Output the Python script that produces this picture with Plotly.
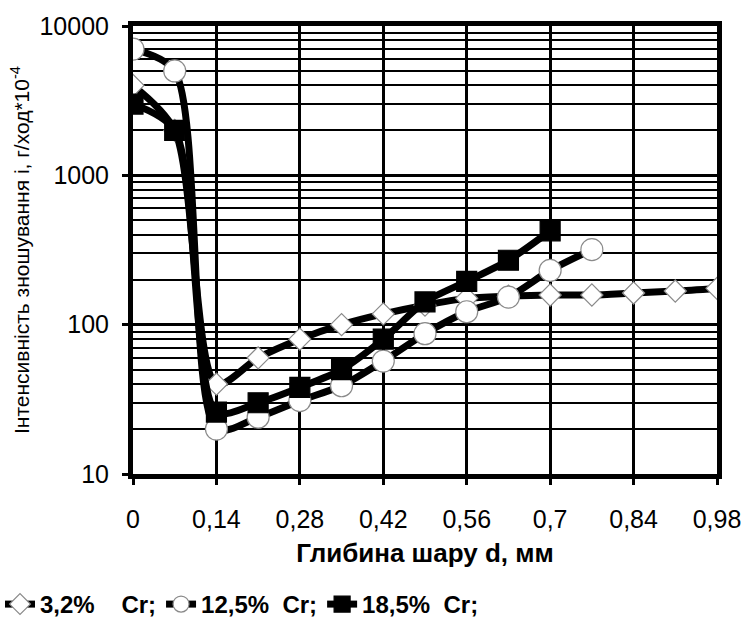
import plotly.graph_objects as go

depth_32 = [0, 0.07, 0.14, 0.21, 0.28, 0.35, 0.42, 0.49, 0.56, 0.63, 0.70, 0.77, 0.84, 0.91, 0.98]
wear_32 = [4000, 2000, 40, 60, 80, 100, 118, 135, 150, 155, 158, 158, 163, 168, 175]

depth_125 = [0, 0.07, 0.14, 0.21, 0.28, 0.35, 0.42, 0.49, 0.56, 0.63, 0.70, 0.77]
wear_125 = [7000, 5000, 20, 24, 31, 39, 57, 87, 122, 153, 231, 318]

depth_185 = [0, 0.07, 0.14, 0.21, 0.28, 0.35, 0.42, 0.49, 0.56, 0.63, 0.70]
wear_185 = [3000, 2000, 26, 30, 38, 50, 80, 142, 195, 270, 425]

names = ["3,2%    Cr;", "12,5%  Cr;", "18,5%  Cr;"]
x_ticks = [0, 0.14, 0.28, 0.42, 0.56, 0.7, 0.84, 0.98]
x_ticktext = ["0", "0,14", "0,28", "0,42", "0,56", "0,7", "0,84", "0,98"]
y_ticks = [10, 100, 1000, 10000]

FONT = "Liberation Sans, Arial, sans-serif"

fig = go.Figure()
series = [
    (depth_32, wear_32, names[0], "diamond", 17),
    (depth_125, wear_125, names[1], "circle", 22),
    (depth_185, wear_185, names[2], "square", 20),
]
for xs, ys, nm, sym, sz in series:
    fill = "black" if sym == "square" else "white"
    outline = "black" if sym == "square" else "#8a8a8a"
    fig.add_trace(go.Scatter(
        x=xs, y=ys, name=nm, mode="lines+markers",
        line=dict(color="black", width=7, shape="spline", smoothing=0.8),
        marker=dict(symbol=sym, size=sz, color=fill, line=dict(color=outline, width=1.2)),
    ))

fig.update_layout(
    width=753, height=627,
    paper_bgcolor="white", plot_bgcolor="white",
    margin=dict(l=133, r=32, t=20, b=153),
    font=dict(family=FONT, color="black", size=22),
    showlegend=True,
    legend=dict(
        orientation="h", xref="container", yref="container",
        x=0.0, y=-0.005, xanchor="left", yanchor="bottom",
        font=dict(family=FONT, size=24, color="black", weight="bold"),
        itemwidth=30, tracegroupgap=0,
    ),
)

fig.update_xaxes(
    range=[0, 0.98], tickvals=x_ticks, ticktext=x_ticktext,
    showgrid=True, gridcolor="black", gridwidth=2.5,
    zeroline=False,
    showline=True, linecolor="black", linewidth=5, mirror=True,
    ticks="outside", ticklen=6, tickwidth=3, tickcolor="black",
    tickfont=dict(size=25, family=FONT), ticklabelstandoff=13,
    title=dict(text="Глибина шару d, мм", font=dict(size=26, family=FONT, weight="bold"), standoff=13),
)

fig.update_yaxes(
    type="log", range=[1, 4], tickvals=y_ticks, ticktext=["10", "100", "1000", "10000"],
    showgrid=True, gridcolor="black", gridwidth=2.5,
    minor=dict(dtick="D1", showgrid=True, gridcolor="black", gridwidth=2),
    zeroline=False,
    showline=True, linecolor="black", linewidth=5, mirror=True,
    ticks="outside", ticklen=6, tickwidth=3, tickcolor="black",
    tickfont=dict(size=25, family=FONT), ticklabelstandoff=8,
    title=dict(text="Інтенсивність зношування і, г/ход*10<sup>-4</sup>", font=dict(size=21, family=FONT), standoff=6),
)

fig.write_html("out.html")
